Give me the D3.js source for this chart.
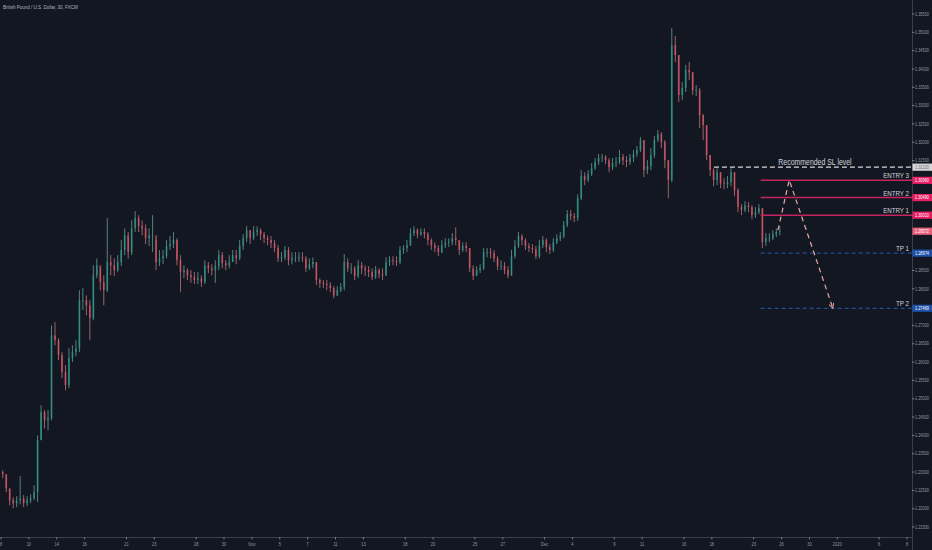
<!DOCTYPE html>
<html><head><meta charset="utf-8">
<script src="https://cdn.jsdelivr.net/npm/d3@7"></script>
<style>html,body{margin:0;padding:0;background:#131722;}svg{display:block;}</style>
</head><body>
<svg id="chart" width="932" height="550"></svg>
<script>
const title = "British Pound / U.S. Dollar, 30, FXCM";
const barsPerDay = 4;          // one drawn candle per 6 hours of trading
const firstOpen = 1.2300;
const closes = [
1.2294,1.2255,1.2223,1.2215,1.2223,1.2228,1.2215,1.2223,1.2228,1.2245,
1.2387,1.2464,1.2441,1.2447,1.2673,1.2660,1.2619,1.2573,1.2537,1.2611,
1.2627,1.2638,1.2769,1.2769,1.2755,1.2720,1.2837,1.2864,1.2818,1.2796,
1.2873,1.2864,1.2851,1.2873,1.2906,1.2946,1.2900,1.2965,1.2993,1.2971,
1.2965,1.2938,1.2946,1.2946,1.2873,1.2883,1.2889,1.2917,1.2922,1.2933,
1.2878,1.2846,1.2851,1.2837,1.2832,1.2824,1.2829,1.2818,1.2864,1.2856,
1.2851,1.2862,1.2892,1.2870,1.2864,1.2873,1.2892,1.2883,1.2917,1.2938,
1.2960,1.2938,1.2955,1.2960,1.2949,1.2938,1.2933,1.2925,1.2911,1.2883,
1.2886,1.2906,1.2878,1.2883,1.2883,1.2886,1.2883,1.2856,1.2867,1.2873,
1.2824,1.2816,1.2813,1.2810,1.2802,1.2782,1.2796,1.2805,1.2873,1.2856,
1.2856,1.2835,1.2864,1.2856,1.2851,1.2846,1.2832,1.2851,1.2840,1.2837,
1.2873,1.2878,1.2876,1.2873,1.2906,1.2911,1.2919,1.2952,1.2960,1.2949,
1.2955,1.2949,1.2933,1.2919,1.2911,1.2900,1.2919,1.2925,1.2927,1.2938,
1.2933,1.2906,1.2917,1.2911,1.2856,1.2835,1.2851,1.2856,1.2900,1.2900,
1.2897,1.2883,1.2862,1.2862,1.2851,1.2837,1.2889,1.2917,1.2944,1.2933,
1.2917,1.2911,1.2908,1.2889,1.2919,1.2933,1.2914,1.2906,1.2927,1.2938,
1.2944,1.2974,1.3004,1.2998,1.2993,1.3047,1.3108,1.3097,1.3113,1.3129,
1.3146,1.3157,1.3160,1.3151,1.3132,1.3143,1.3146,1.3160,1.3151,1.3146,
1.3157,1.3168,1.3179,1.3206,1.3124,1.3135,1.3165,1.3206,1.3222,1.3200,
1.3151,1.3097,1.3465,1.3438,1.3329,1.3348,1.3397,1.3391,1.3342,1.3342,
1.3274,1.3247,1.3165,1.3124,1.3097,1.3118,1.3088,1.3086,1.3091,1.3118,
1.3069,1.3023,1.3015,1.3028,1.3023,1.3001,1.3009,1.3020,1.2927,1.2938,
1.2938,1.2949,1.2955,1.2957];
const highs = [
1.2305,1.2294,1.2255,1.2231,1.2234,1.2289,1.2237,1.2234,1.2239,1.2264,
1.2400,1.2482,1.2469,1.2469,1.2700,1.2709,1.2665,1.2627,1.2592,1.2638,
1.2646,1.2660,1.2796,1.2802,1.2782,1.2769,1.2864,1.2883,1.2856,1.2837,
1.2993,1.2892,1.2883,1.2892,1.2933,1.2965,1.2955,1.2987,1.3012,1.3001,
1.2987,1.2976,1.2965,1.3001,1.2933,1.2906,1.2906,1.2933,1.2944,1.2955,
1.2938,1.2892,1.2864,1.2856,1.2851,1.2846,1.2846,1.2837,1.2878,1.2873,
1.2867,1.2878,1.2906,1.2900,1.2878,1.2892,1.2906,1.2906,1.2933,1.2949,
1.2971,1.2960,1.2971,1.2971,1.2965,1.2955,1.2946,1.2944,1.2933,1.2919,
1.2900,1.2917,1.2914,1.2900,1.2900,1.2900,1.2900,1.2889,1.2883,1.2886,
1.2873,1.2829,1.2824,1.2824,1.2818,1.2807,1.2807,1.2816,1.2895,1.2883,
1.2870,1.2862,1.2878,1.2873,1.2864,1.2862,1.2856,1.2862,1.2856,1.2856,
1.2886,1.2889,1.2889,1.2889,1.2917,1.2919,1.2933,1.2965,1.2971,1.2965,
1.2965,1.2965,1.2955,1.2938,1.2927,1.2919,1.2933,1.2938,1.2938,1.2952,
1.2968,1.2933,1.2927,1.2927,1.2911,1.2864,1.2862,1.2867,1.2911,1.2911,
1.2911,1.2906,1.2889,1.2878,1.2873,1.2862,1.2906,1.2933,1.2955,1.2949,
1.2938,1.2925,1.2922,1.2917,1.2933,1.2944,1.2938,1.2922,1.2938,1.2949,
1.2955,1.2985,1.3015,1.3015,1.3007,1.3058,1.3124,1.3118,1.3124,1.3143,
1.3157,1.3168,1.3168,1.3165,1.3157,1.3157,1.3160,1.3179,1.3168,1.3162,
1.3168,1.3179,1.3190,1.3214,1.3206,1.3151,1.3184,1.3217,1.3233,1.3228,
1.3206,1.3151,1.3512,1.3490,1.3438,1.3364,1.3411,1.3419,1.3391,1.3356,
1.3348,1.3277,1.3247,1.3165,1.3129,1.3129,1.3118,1.3102,1.3108,1.3129,
1.3118,1.3075,1.3031,1.3039,1.3037,1.3028,1.3023,1.3031,1.3020,1.2952,
1.2952,1.2960,1.2965,1.2971];
const lows = [
1.2283,1.2245,1.2209,1.2201,1.2204,1.2212,1.2204,1.2207,1.2215,1.2223,
1.2218,1.2387,1.2419,1.2414,1.2441,1.2646,1.2605,1.2556,1.2523,1.2529,
1.2600,1.2616,1.2627,1.2742,1.2728,1.2660,1.2714,1.2829,1.2796,1.2755,
1.2791,1.2837,1.2835,1.2846,1.2862,1.2892,1.2883,1.2892,1.2955,1.2955,
1.2946,1.2922,1.2917,1.2900,1.2851,1.2862,1.2867,1.2883,1.2906,1.2911,
1.2864,1.2791,1.2829,1.2824,1.2816,1.2813,1.2813,1.2805,1.2813,1.2843,
1.2837,1.2816,1.2851,1.2856,1.2851,1.2856,1.2873,1.2867,1.2878,1.2906,
1.2927,1.2922,1.2933,1.2944,1.2933,1.2925,1.2919,1.2911,1.2900,1.2873,
1.2873,1.2878,1.2864,1.2867,1.2873,1.2873,1.2873,1.2846,1.2851,1.2856,
1.2810,1.2802,1.2802,1.2796,1.2791,1.2774,1.2780,1.2791,1.2796,1.2846,
1.2840,1.2824,1.2829,1.2840,1.2835,1.2832,1.2824,1.2827,1.2829,1.2824,
1.2835,1.2862,1.2864,1.2862,1.2867,1.2895,1.2900,1.2917,1.2944,1.2938,
1.2944,1.2938,1.2919,1.2906,1.2900,1.2889,1.2897,1.2911,1.2914,1.2919,
1.2919,1.2892,1.2900,1.2900,1.2846,1.2824,1.2835,1.2843,1.2851,1.2886,
1.2883,1.2873,1.2851,1.2851,1.2840,1.2829,1.2835,1.2883,1.2911,1.2919,
1.2906,1.2900,1.2897,1.2881,1.2883,1.2911,1.2900,1.2895,1.2900,1.2922,
1.2930,1.2938,1.2968,1.2987,1.2982,1.2985,1.3042,1.3083,1.3091,1.3108,
1.3124,1.3138,1.3146,1.3140,1.3118,1.3124,1.3132,1.3140,1.3138,1.3132,
1.3138,1.3146,1.3160,1.3173,1.3105,1.3113,1.3124,1.3157,1.3200,1.3184,
1.3129,1.3047,1.3091,1.3419,1.3310,1.3315,1.3337,1.3370,1.3329,1.3326,
1.3239,1.3206,1.3151,1.3108,1.3080,1.3083,1.3075,1.3072,1.3075,1.3080,
1.3053,1.3009,1.3001,1.3009,1.3009,1.2990,1.2993,1.3004,1.2911,1.2917,
1.2927,1.2933,1.2941,1.2946];

const priceTicks = ["1.21500","1.22000","1.22500","1.23000","1.23500","1.24000","1.24500","1.25000","1.25500","1.26000","1.26500","1.27000","1.27500","1.28000","1.28500","1.29000","1.29500","1.30000","1.30500","1.31000","1.31500","1.32000","1.32500","1.33000","1.33500","1.34000","1.34500","1.35000","1.35500"];
const timeTickLabels = ["8","10","14","16","21","23","28","30","Nov","5","7","11","13","18","20","25","27","Dec","4","9","11","16","18","23","26","30","2020","6","8"];
const timeTickDays   = [0,2,4,6,9,11,14,16,18,20,22,24,26,29,31,34,36,39,41,44,46,49,51,54,56,58,60,63,65];

const levelNames  = ["Recommended SL level","ENTRY 3","ENTRY 2","ENTRY 1","TP 1","TP 2"];
const levelPrices = [1.31320,1.30960,1.30490,1.30010,1.28974,1.27469];
const levelStartDays = [51.15,54.5,54.5,54.5,54.5,54.5];
const levelKinds  = ["sl","entry","entry","entry","tp","tp"];
const currentPrice = 1.29572;
const projDays   = [55.74,56.55,59.68];
const projPrices = [1.2960,1.3097,1.2747];

const W=932,H=550, plotR=912, plotB=537;
const svg=d3.select("#chart");
const x=d3.scaleLinear().domain([0,65]).range([1,907]);
const y=d3.scaleLinear().domain([1.215,1.355]).range([527,14]);
const FONT="Liberation Sans, Arial, sans-serif";
function condense(sel,f){sel.each(function(){const w=this.getComputedTextLength();d3.select(this).attr("textLength",w*f).attr("lengthAdjust","spacingAndGlyphs");});}

svg.append("rect").attr("width",W).attr("height",H).attr("fill","#131722");

// candles
const candles=closes.map((c,i)=>({d:(i+0.5)/barsPerDay,o:i?closes[i-1]:firstOpen,c:c,h:highs[i],l:lows[i]}));
const bw=(x(1)-x(0))/barsPerDay*0.5;
const cg=svg.append("g");
const up="#2b9a8c", dn="#e05566";
cg.selectAll("line").data(candles).join("line")
  .attr("x1",d=>x(d.d)).attr("x2",d=>x(d.d))
  .attr("y1",d=>y(d.h)).attr("y2",d=>y(d.l))
  .attr("stroke",d=>d.c>=d.o?"#6aa596":"#c77a80").attr("stroke-width",0.9).attr("opacity",0.85);
cg.selectAll("rect").data(candles).join("rect")
  .attr("x",d=>x(d.d)-bw/2).attr("width",bw)
  .attr("y",d=>y(Math.max(d.o,d.c))).attr("height",d=>Math.max(0.8,Math.abs(y(d.o)-y(d.c))))
  .attr("fill",d=>d.c>=d.o?up:dn).attr("opacity",0.7);

// levels
const lg=svg.append("g");
levelPrices.forEach((p,i)=>{
  const k=levelKinds[i];
  const ln=lg.append("line").attr("x1",x(levelStartDays[i])).attr("x2",plotR)
    .attr("y1",y(p)).attr("y2",y(p));
  if(k==="sl") ln.attr("stroke","#d8d8d8").attr("stroke-width",1.3).attr("stroke-dasharray","5,3");
  else if(k==="entry") ln.attr("stroke","#c2255c").attr("stroke-width",1.5);
  else ln.attr("stroke","#1f4f9c").attr("stroke-width",1.2).attr("stroke-dasharray","4,3");
});
// projection
svg.append("defs").append("marker").attr("id","arr").attr("viewBox","0 0 10 10").attr("refX",9).attr("refY",5)
  .attr("markerWidth",5).attr("markerHeight",5).attr("orient","auto")
  .append("path").attr("d","M1,1 L9,5 L1,9").attr("fill","none").attr("stroke","#e8aaa2").attr("stroke-width",1.6);
const pts=projDays.map((d,i)=>[x(d),y(projPrices[i])]);
svg.append("path").attr("d",d3.line()(pts)).attr("fill","none").attr("stroke","#e8aaa2")
  .attr("stroke-width",1.2).attr("stroke-dasharray","5,4").attr("marker-end","url(#arr)");

// level texts
levelPrices.forEach((p,i)=>{
  const k=levelKinds[i];
  const t=svg.append("text").attr("font-family",FONT).attr("fill","#d1d4dc").text(levelNames[i]);
  if(k==="sl") t.attr("x",815).attr("y",y(p)-2.5).attr("text-anchor","middle").attr("font-size",9);
  else t.attr("x",909).attr("y",y(p)-2).attr("text-anchor","end").attr("font-size",8);
  condense(t,0.77);
});

// title
const tt=svg.append("text").attr("x",3).attr("y",9).attr("font-family",FONT).attr("font-size",6)
  .attr("fill","#b2b5be").text(title);
condense(tt,0.75);

// right axis
svg.append("rect").attr("x",plotR).attr("y",0).attr("width",W-plotR).attr("height",H).attr("fill","#131722");
svg.append("line").attr("x1",plotR+0.5).attr("x2",plotR+0.5).attr("y1",0).attr("y2",H).attr("stroke","#3b3f4a");
svg.append("line").attr("x1",0).attr("x2",plotR).attr("y1",plotB+0.5).attr("y2",plotB+0.5).attr("stroke","#3b3f4a");
const labelled=levelPrices.concat([currentPrice]).map(p=>y(p));
const ra=svg.append("g");
priceTicks.forEach(s=>{
  const yy=y(+s);
  ra.append("line").attr("x1",plotR).attr("x2",plotR+2.5).attr("y1",yy).attr("y2",yy).attr("stroke","#787b86");
  if(labelled.some(v=>Math.abs(v-yy)<5.5)) return;   // hidden behind a coloured price label
  const t=ra.append("text").attr("x",915).attr("y",yy+1.7).attr("font-family",FONT).attr("font-size",5).attr("fill","#9598a1").text(s);
  condense(t,0.77);
});
// colored price labels
function priceLabel(p,bg,fg){
  const yy=y(p);
  svg.append("rect").attr("x",plotR+0.5).attr("y",yy-3.6).attr("width",W-plotR).attr("height",7.2).attr("fill",bg);
  const t=svg.append("text").attr("x",915).attr("y",yy+1.7).attr("font-family",FONT).attr("font-size",5)
    .attr("fill",fg).text(p.toFixed(5));
  condense(t,0.77);
}
levelPrices.forEach((p,i)=>{
  const k=levelKinds[i];
  if(k==="sl") priceLabel(p,"#d6d6d6","#6a6d78");
  else if(k==="entry") priceLabel(p,"#e91e63","#ffffff");
  else priceLabel(p,"#1c4fa6","#ffffff");
});
priceLabel(currentPrice,"#e8607a","#ffffff");

// bottom axis
const ba=svg.append("g");
timeTickDays.forEach((d,i)=>{
  const xx=x(d);
  ba.append("line").attr("x1",xx).attr("x2",xx).attr("y1",plotB).attr("y2",plotB+2.5).attr("stroke","#787b86");
  const t=ba.append("text").attr("x",xx).attr("y",546).attr("text-anchor","middle").attr("font-family",FONT)
    .attr("font-size",5).attr("fill","#9598a1").text(timeTickLabels[i]);
  condense(t,0.8);
});
</script>
</body></html>
